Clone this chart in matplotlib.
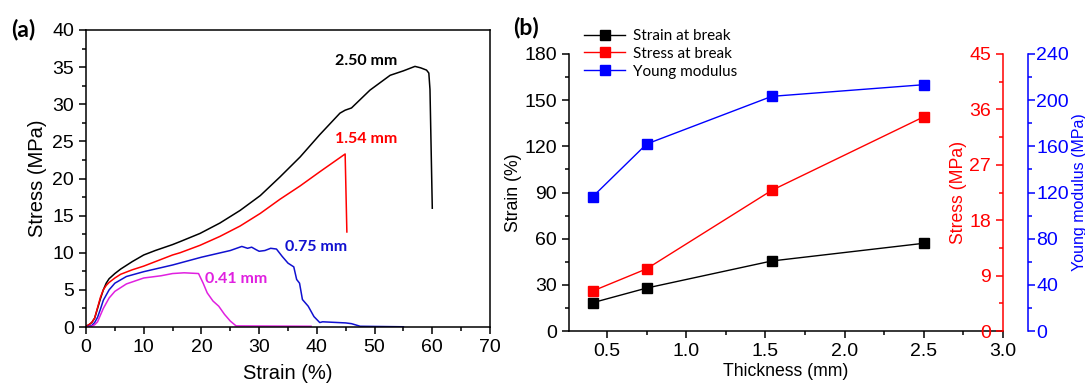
import numpy as np
import matplotlib
matplotlib.use('Agg')
import matplotlib.pyplot as plt
from matplotlib.ticker import MultipleLocator

plt.rcParams['font.family'] = ['Liberation Sans', 'DejaVu Sans']

# --- (a) stress-strain curves
strain_250 = [0, 0.5, 1, 1.5, 2, 2.5, 3, 3.5, 4, 5, 6, 8, 10, 12, 15, 16.3, 19.75, 23.2, 26.7,
              30.2, 33.6, 37.1, 40.5, 44, 44.9, 46.0, 49.2, 52.7, 55, 57, 58, 59, 59.4, 59.6, 60.0]
stress_250 = [0.1, 0.3, 0.6, 1.2, 2.5, 3.8, 5.0, 5.9, 6.5, 7.2, 7.8, 8.8, 9.7, 10.3, 11.1, 11.5,
              12.6, 14.0, 15.7, 17.7, 20.2, 22.9, 25.9, 28.8, 29.2, 29.5, 31.9, 33.9,
              34.5, 35.1, 34.9, 34.6, 34.2, 32.0, 16.0]

strain_154 = [0, 0.5, 1, 1.5, 2, 2.5, 3, 3.5, 4, 5, 6, 8, 10, 12, 15, 16.3, 19.75, 23.2, 26.7,
              30.2, 33.6, 37.1, 40.5, 44.9, 45.2]
stress_154 = [0.1, 0.3, 0.6, 1.2, 2.6, 4.0, 5.0, 5.6, 6.0, 6.6, 7.1, 7.7, 8.2, 8.8, 9.7, 10.0,
              11.0, 12.2, 13.6, 15.3, 17.2, 19.0, 20.9, 23.3, 12.8]

strain_075 = [0, 1, 1.5, 2, 2.5, 3, 4, 5, 7, 10, 15, 20, 25, 27, 28, 28.7, 29.5, 30, 31, 32,
              33, 34, 35, 36, 36.5, 37, 37.5, 38.5, 39.5, 40.5, 41, 45, 46, 47.5, 55]
stress_075 = [0, 0.2, 0.6, 1.3, 2.4, 3.6, 5.0, 5.9, 6.8, 7.45, 8.35, 9.4, 10.3, 10.85, 10.6,
              10.75, 10.4, 10.2, 10.3, 10.6, 10.5, 9.5, 8.6, 8.1, 6.4, 5.9, 3.7, 2.8, 1.4,
              0.6, 0.7, 0.55, 0.45, 0.1, 0.03]

strain_041 = [0, 1, 1.5, 2, 3, 4, 5, 7, 10, 13, 15, 17, 19.5, 20.3, 21, 22, 23, 24, 25, 26, 39]
stress_041 = [0, 0.1, 0.3, 0.7, 2.5, 3.9, 4.8, 5.8, 6.6, 6.9, 7.2, 7.3, 7.2, 5.9, 4.6, 3.5,
              2.8, 1.7, 0.8, 0.15, 0.1]

# --- (b) properties vs thickness
thickness = [0.41, 0.75, 1.54, 2.50]
strain_break = [18.4, 27.9, 45.5, 57.0]
stress_break = [6.5, 10.1, 22.85, 34.8]
young_mod = [116.4, 162, 203.3, 213.4]

MAG = '#e020e0'
BLUE = '#1010d0'

fig = plt.figure(figsize=(10.85, 3.88), dpi=100)

# ---------------- panel (a)
ax = fig.add_axes([86/1085, 1-327/388, 404/1085, 297/388])
ax.plot(strain_250, stress_250, color='black', lw=1.1)
ax.plot(strain_154, stress_154, color='red', lw=1.1)
ax.plot(strain_075, stress_075, color=BLUE, lw=1.1)
ax.plot(strain_041, stress_041, color=MAG, lw=1.1)
ax.set_xlim(0, 70); ax.set_ylim(0, 40)
ax.xaxis.set_major_locator(MultipleLocator(10)); ax.xaxis.set_minor_locator(MultipleLocator(5))
ax.yaxis.set_major_locator(MultipleLocator(5)); ax.yaxis.set_minor_locator(MultipleLocator(2.5))
ax.tick_params(which='both', direction='out', labelsize=14, width=1.1)
ax.tick_params(which='major', length=5)
ax.tick_params(which='minor', length=3)
for s in ax.spines.values():
    s.set_linewidth(1.1)
ax.set_xlabel('Strain (%)', fontsize=14.5, labelpad=6)
ax.set_ylabel('Stress (MPa)', fontsize=14.5, labelpad=4)

lbl = dict(family=['Lato', 'DejaVu Sans'], fontweight='bold', fontsize=11.5, ha='center', va='center')
ax.text(48.5, 35.8, '2.50 mm', color='black', **lbl)
ax.text(48.5, 25.3, '1.54 mm', color='red', **lbl)
ax.text(39.8, 10.8, '0.75 mm', color=BLUE, **lbl)
ax.text(26.0, 6.4, '0.41 mm', color=MAG, **lbl)
fig.text(11/1085, 1-30/388, '(a)', fontsize=16.5, fontweight='bold', family=['Lato', 'DejaVu Sans'], va='center')

# ---------------- panel (b)
axb = fig.add_axes([569/1085, 1-331/388, 434/1085, 277/388])
l1, = axb.plot(thickness, strain_break, '-s', color='black', lw=1.0, ms=7, label='Strain at break')
axb.set_xlim(0.26, 3.0); axb.set_ylim(0, 180)
axb.xaxis.set_major_locator(MultipleLocator(0.5)); axb.xaxis.set_minor_locator(MultipleLocator(0.25))
axb.yaxis.set_major_locator(MultipleLocator(30)); axb.yaxis.set_minor_locator(MultipleLocator(15))
axb.tick_params(which='both', direction='out', labelsize=14, width=1.1)
axb.tick_params(which='major', length=5)
axb.tick_params(which='minor', length=3)
axb.spines['top'].set_visible(False); axb.spines['right'].set_visible(False)
axb.spines['left'].set_linewidth(1.1); axb.spines['bottom'].set_linewidth(1.1)
axb.set_xlabel('Thickness (mm)', fontsize=12.7, labelpad=2)
axb.set_ylabel('Strain (%)', fontsize=12.7, labelpad=2)

# red stress axis, labels on the inner side of the right edge
ax2 = axb.twinx()
l2, = ax2.plot(thickness, stress_break, '-s', color='red', lw=1.0, ms=7, label='Stress at break')
ax2.set_ylim(0, 45)
ax2.yaxis.set_major_locator(MultipleLocator(9)); ax2.yaxis.set_minor_locator(MultipleLocator(4.5))
for k in ['top', 'bottom', 'right']:
    ax2.spines[k].set_visible(False)
ax2.spines['left'].set_position(('axes', 1.0))
ax2.spines['left'].set_color('red'); ax2.spines['left'].set_linewidth(1.1)
ax2.yaxis.tick_left(); ax2.yaxis.set_label_position('left')
ax2.tick_params(axis='y', which='both', direction='out', colors='red', labelsize=14, width=1.1)
ax2.tick_params(axis='y', which='major', length=5)
ax2.tick_params(axis='y', which='minor', length=3)
ax2.set_ylabel('Stress (MPa)', color='red', fontsize=12.7, labelpad=2)

# blue modulus axis, offset to the right
ax3 = axb.twinx()
l3, = ax3.plot(thickness, young_mod, '-s', color='blue', lw=1.0, ms=7, label='Young modulus')
ax3.set_ylim(0, 240)
ax3.yaxis.set_major_locator(MultipleLocator(40)); ax3.yaxis.set_minor_locator(MultipleLocator(20))
for k in ['top', 'bottom', 'left']:
    ax3.spines[k].set_visible(False)
ax3.spines['right'].set_position(('outward', 18))
ax3.spines['right'].set_color('blue'); ax3.spines['right'].set_linewidth(1.1)
ax3.tick_params(axis='y', which='both', direction='out', colors='blue', labelsize=14, width=1.1, pad=1)
ax3.tick_params(axis='y', which='major', length=5)
ax3.tick_params(axis='y', which='minor', length=3)
ax3.set_ylabel('Young modulus (MPa)', color='blue', fontsize=11.5, labelpad=2)

fig.legend(handles=[l1, l2, l3], loc='upper left', bbox_to_anchor=(584/1085, 1-29/388),
           frameon=False, borderpad=0, borderaxespad=0, handlelength=2.7, handletextpad=0.5,
           labelspacing=0.25, prop={'family': ['Lato', 'DejaVu Sans'], 'size': 11})
fig.text(513/1085, 1-27/388, '(b)', fontsize=16.5, fontweight='bold', family=['Lato', 'DejaVu Sans'], va='center')

fig.savefig('out.png', dpi=100)
plt.close(fig)
